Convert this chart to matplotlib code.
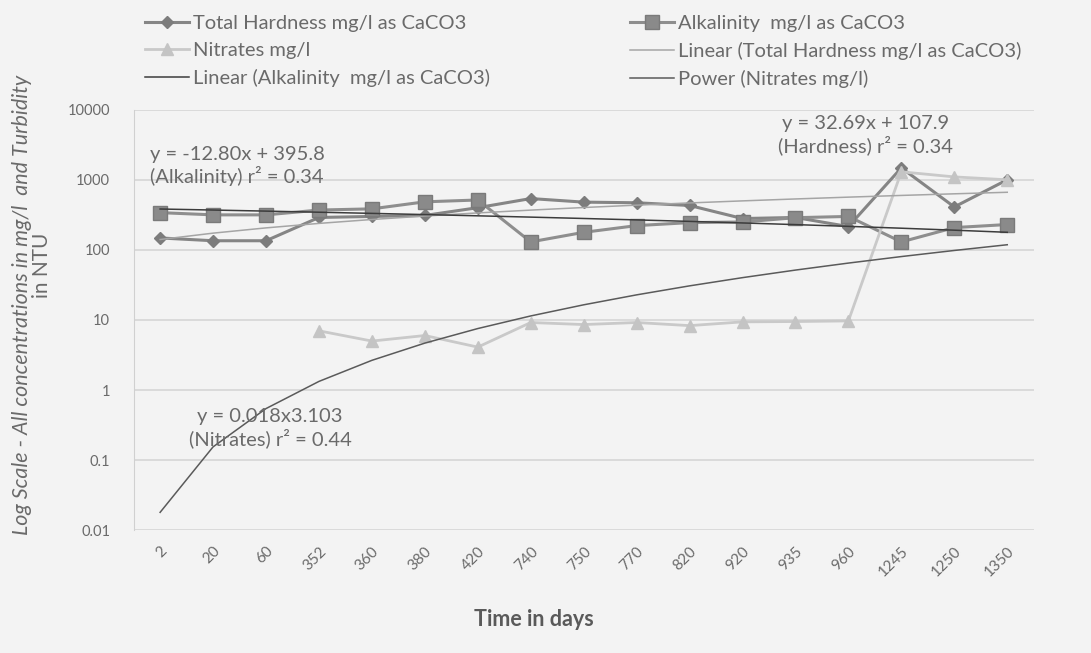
#!/usr/bin/env python3
"""Andamento durezza / alcalinità / nitrati nel tempo (scala log)."""

import matplotlib
matplotlib.use("Agg")
import matplotlib.pyplot as plt
import numpy as np

plt.rcParams['font.family'] = ['Lato', 'DejaVu Sans']

# ── Dati ──────────────────────────────────────────────────────────────────────

days = ['2', '20', '60', '352', '360', '380', '420', '740', '750', '770',
        '820', '920', '935', '960', '1245', '1250', '1350']

hardness   = [148, 135, 135, 290, 300, 310, 400, 540, 480, 470,
              430, 280, 290, 215, 1480, 410, 1000]
alkalinity = [340, 316, 316, 370, 385, 485, 515, 130, 178, 222,
              245, 250, 288, 300, 130, 208, 230]
nitrates   = [np.nan, np.nan, np.nan, 7.0, 5.0, 6.0, 4.1, 9.2, 8.6, 9.2,
              8.3, 9.4, 9.5, 9.7, 1300, 1100, 1000]

# coefficienti delle linee di tendenza (come da grafico)
ALK_LIN = (-12.80, 395.8)
HARD_LIN = (32.69, 107.9)
NIT_POW = (0.018, 3.103)

C_HARD = '#858585'
C_ALK = '#8e8e8e'
C_NIT = '#c9c9c9'
TXT = '#6a6a6a'
BG = '#f3f3f3'


def fig_xy(px, py):
    """Pixel (dall'alto a sinistra) -> coordinate figura."""
    return px / 1091, 1 - py / 653


def main():
    fig = plt.figure(figsize=(10.91, 6.53), dpi=100, facecolor=BG)
    ax = fig.add_axes([0.1225, 0.188, 0.825, 0.644])
    ax.set_facecolor(BG)

    x = np.arange(len(days))
    xi = x + 1  # ascissa Excel (1..n)

    h1, = ax.plot(x, hardness, color=C_HARD, lw=2.2, marker='D', ms=6,
                  mfc='#7c7c7c', mec='#7c7c7c', label='Total Hardness mg/l as CaCO3')
    h2, = ax.plot(x, alkalinity, color=C_ALK, lw=2.2, marker='s', ms=10,
                  mfc='#8a8a8a', mec='#7a7a7a', label='Alkalinity  mg/l as CaCO3')
    h3, = ax.plot(x, nitrates, color=C_NIT, lw=2.0, marker='^', ms=8,
                  mfc='#c4c4c4', mec='#c4c4c4', label='Nitrates mg/l')

    # linee di tendenza
    t_hard = HARD_LIN[0] * xi + HARD_LIN[1]
    t_alk = ALK_LIN[0] * xi + ALK_LIN[1]
    t_nit = NIT_POW[0] * xi ** NIT_POW[1]
    h4, = ax.plot(x, t_hard, color='#a5a5a5', lw=1.1,
                  label='Linear (Total Hardness mg/l as CaCO3)')
    h5, = ax.plot(x, t_alk, color='#3c3c3c', lw=1.1,
                  label='Linear (Alkalinity  mg/l as CaCO3)')
    h6, = ax.plot(x, t_nit, color='#5a5a5a', lw=1.1,
                  label='Power (Nitrates mg/l)')

    ax.set_yscale('log')
    ax.set_ylim(0.01, 10000)
    ax.set_xlim(-0.5, len(days) - 0.5)
    ticks = [0.01, 0.1, 1, 10, 100, 1000, 10000]
    ax.set_yticks(ticks)
    ax.set_yticklabels(['0.01', '0.1', '1', '10', '100', '1000', '10000'])
    ax.yaxis.set_minor_locator(matplotlib.ticker.NullLocator())
    ax.tick_params(axis='y', length=0, labelsize=10.5, labelcolor=TXT, pad=17)
    ax.set_xticks(x)
    ax.set_xticklabels(days, rotation=45, ha='right', rotation_mode='anchor')
    ax.tick_params(axis='x', length=0, labelsize=11, labelcolor=TXT, pad=10)

    ax.grid(axis='y', color='#d6d6d6', lw=1.2)
    ax.set_axisbelow(True)
    for s in ['top', 'right', 'bottom']:
        ax.spines[s].set_visible(False)
    ax.spines['left'].set_color('#d0d0d0')

    fig.text(*fig_xy(534, 620), 'Time in days', ha='center', va='center',
             fontsize=15.5, fontweight='bold', color='#5a5a5a')
    fig.text(*fig_xy(22, 305), 'Log Scale - All concentrations in mg/l  and Turbidity',
             rotation=90, ha='center', va='center', fontsize=15.5,
             style='italic', color=TXT)
    fig.text(*fig_xy(42, 265), 'in NTU', rotation=90, ha='center', va='center',
             fontsize=15, color=TXT)

    # equazioni
    fig.text(*fig_xy(150, 166), 'y = -12.80x + 395.8\n(Alkalinity) r² = 0.34',
             ha='left', va='center', fontsize=14.5, color=TXT, linespacing=1.15)
    fig.text(*fig_xy(866, 135), 'y = 32.69x + 107.9\n(Hardness) r² = 0.34',
             ha='center', va='center', fontsize=14.5, color=TXT, linespacing=1.15)
    fig.text(*fig_xy(270, 428), 'y = 0.018x3.103\n(Nitrates) r² = 0.44',
             ha='center', va='center', fontsize=14.5, color=TXT, linespacing=1.15)

    # legenda su due colonne
    opts = dict(loc='upper left', frameon=False, fontsize=14.5, labelcolor=TXT,
                borderpad=0, handlelength=2.2, handletextpad=0.2,
                labelspacing=0.5)
    fig.legend(handles=[h1, h3, h5], bbox_to_anchor=fig_xy(135, 5), **opts)
    fig.legend(handles=[h2, h4, h6], bbox_to_anchor=fig_xy(620, 5), **opts)

    fig.savefig('out.png', dpi=100, facecolor=fig.get_facecolor())


if __name__ == '__main__':
    main()
